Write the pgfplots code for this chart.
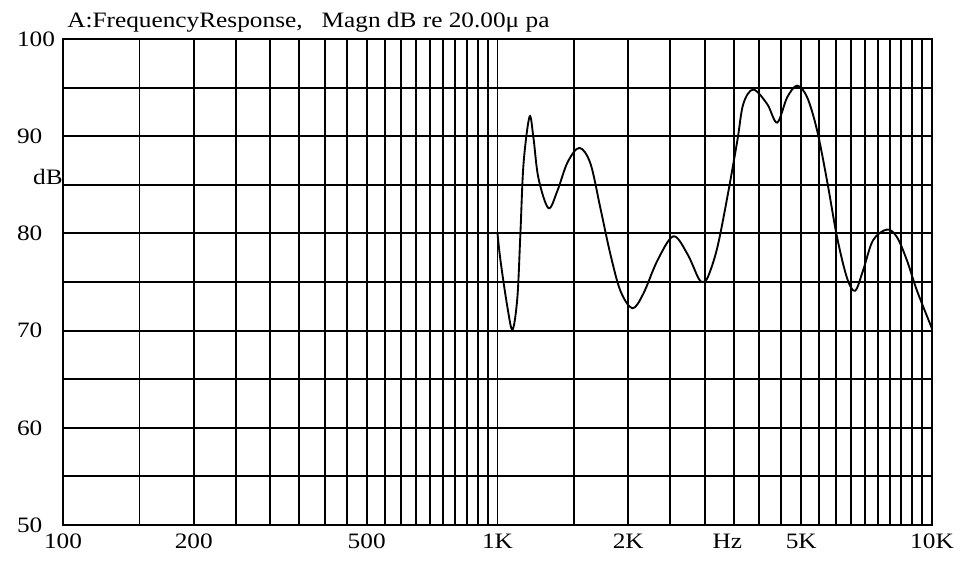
\documentclass[border=0pt]{standalone}
\usepackage{fontspec}
\setmainfont{Liberation Serif}[FakeStretch=1.15]
\usepackage{pgfplots}
\pgfplotsset{compat=1.18}
\usetikzlibrary{calc}
\begin{document}
\begin{tikzpicture}
\useasboundingbox (-47.25pt,-27pt) rectangle (675pt,393.75pt);
\begin{axis}[
  name=ax,
  at={(0,0)}, anchor=south west,
  scale only axis,
  width=651.75pt, height=364.5pt,
  xmode=log,
  xmin=100, xmax=10000,
  ymin=50, ymax=100,
  xtick={100,200,500,1000,2000,3380,5000,10000},
  xticklabels={100,200,500,1K,2K,Hz,5K,10K},
  minor xtick={150,200,250,300,350,400,450,500,550,600,650,700,750,800,850,900,950,1000,
    1500,2000,2500,3000,3500,4000,4500,5000,5500,6000,6500,7000,7500,8000,8500,9000,9500},
  xminorgrids=true,
  ytick={50,60,70,80,90,100},
  yticklabels={50,60,70,80,90,100},
  minor ytick={55,65,75,85,95},
  ymajorgrids=true, yminorgrids=true,
  major tick length=0pt, minor tick length=0pt,
  grid style={black, line width=1.4pt},
  minor grid style={black, line width=1.4pt},
  major grid style={black, line width=1.4pt},
  axis line style={black, line width=1.6pt},
  tick label style={font=\fontsize{16.5}{19}\selectfont},
  yticklabel style={anchor=west, xshift=-38pt},
  xticklabel style={yshift=-3pt},
]
\addplot[smooth, tension=0.55, black, line width=1.4pt] coordinates {
(1000,80.0) (1016,77.2) (1054,72.4) (1083,70.1) (1111,73.4) (1129,80.0)
(1148,87.2) (1185,92.0) (1210,89.8) (1242,85.7) (1310,82.6) (1374,84.4)
(1449,87.3) (1543,88.8) (1636,87.2) (1725,82.6) (1818,77.9) (1918,74.1)
(2044,72.3) (2166,73.8) (2333,77.2) (2539,79.7) (2734,77.9) (2900,75.4) (2976,75.0)
(3055,75.6) (3204,78.5) (3379,83.7) (3563,89.5) (3678,93.3) (3878,94.8)
(4176,93.3) (4402,91.4) (4642,94.0) (4894,95.2) (5160,94.0) (5439,90.6)
(5735,85.4) (6047,79.6) (6376,75.4) (6653,74.1) (6941,76.2) (7318,79.3)
(7883,80.4) (8308,79.6) (8760,77.2) (9236,74.1) (10000,70.2)
};
\end{axis}
\node[anchor=base west, inner sep=0pt, font=\fontsize{16.5}{19}\selectfont]
  at ([xshift=3pt, yshift=9pt]ax.north west) {A:FrequencyResponse,\ \ \ Magn dB re 20.00μ pa};
\node[anchor=base east, inner sep=0pt, font=\fontsize{16.5}{19}\selectfont]
  at ($(ax.south west)!0.7!(ax.north west)$) {dB};
\end{tikzpicture}
\end{document}
